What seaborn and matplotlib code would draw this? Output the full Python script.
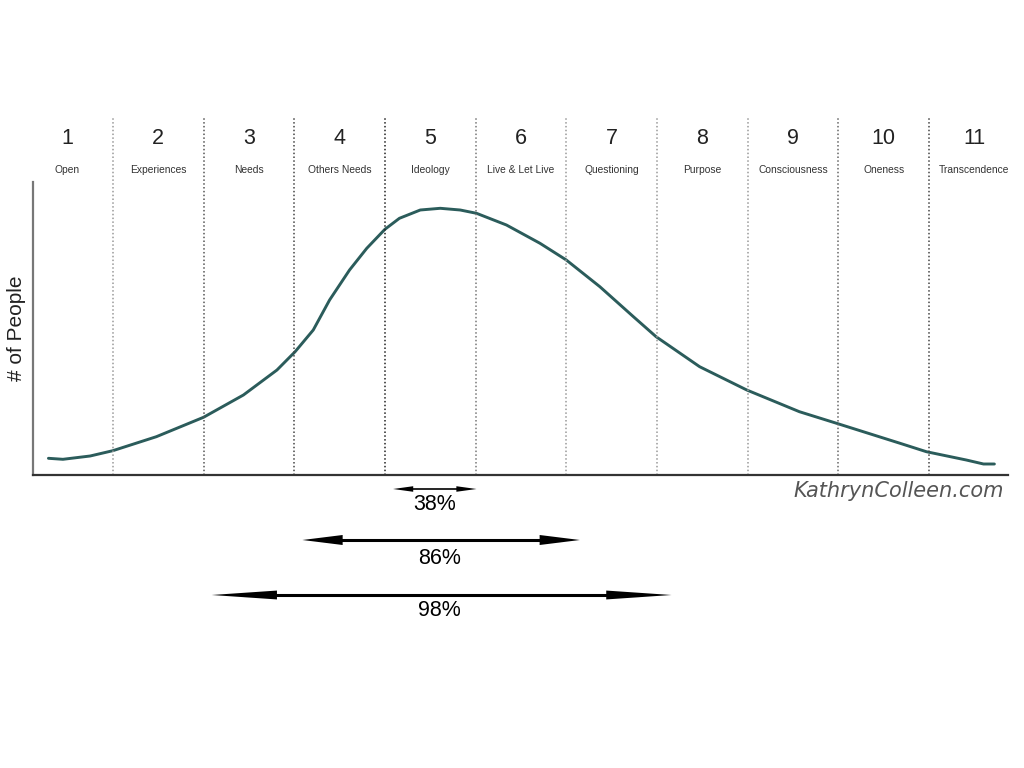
import numpy as np
import pandas as pd
import seaborn as sns
import matplotlib.pyplot as plt

# stages of the curve
stage_numbers = ["1", "2", "3", "4", "5", "6", "7", "8", "9", "10", "11"]
stage_names = ["Open", "Experiences", "Needs", "Others Needs", "Ideology",
               "Live & Let Live", "Questioning", "Purpose", "Consciousness",
               "Oneness", "Transcendence"]

# curve (x in stage units, y = relative # of people)
curve_x = [0.29, 0.45, 0.75, 1.00, 1.48, 2.00, 2.44, 2.81, 3.01, 3.21, 3.39,
           3.61, 3.80, 4.00, 4.16, 4.39, 4.61, 4.83, 5.01, 5.34, 5.71, 6.00,
           6.37, 6.74, 6.99, 7.47, 7.99, 8.57, 8.98, 9.68, 9.97, 10.41, 10.60,
           10.72]
curve_y = [16.7, 15.7, 19, 24.3, 38.3, 57.7, 80, 105, 123.3, 145, 175,
           205, 226.7, 245.7, 256.7, 265, 266.7, 265, 261.7, 250, 231.7, 215,
           188.3, 158.3, 138.3, 108.3, 85, 63.3, 51.7, 31.7, 23.3, 15, 11,
           11]

# share-of-population spans
span_labels = ["38%", "86%", "98%"]
span_start = [4.09, 3.09, 2.09]
span_end = [5.01, 6.15, 7.16]

df = pd.DataFrame({"stage": curve_x, "people": curve_y})

sns.set_style("white")
plt.rcParams['font.family'] = ['Liberation Sans', 'DejaVu Sans']

fig = plt.figure(figsize=(10.24, 7.68), dpi=100)
ax = fig.add_axes([33 / 1024, 293 / 768, 975 / 1024, 293 / 768])

sns.lineplot(data=df, x="stage", y="people", ax=ax, color="#2b5c5b", lw=2.1,
             solid_joinstyle="round", solid_capstyle="round")

ax.set_xlim(0.12, 10.87)
ax.set_ylim(0, 293)

# stage dividers
div_colors = ["#999999", "#555555", "#444444", "#222222", "#777777",
              "#999999", "#999999", "#999999", "#666666", "#444444"]
for i, c in enumerate(div_colors):
    ax.plot([i + 1, i + 1], [0, 357], color=c, ls=(0, (1, 1.5)), lw=1.1, clip_on=False)

for i, (num, name) in enumerate(zip(stage_numbers, stage_names)):
    ax.text(i + 0.5, 339, num, ha="center", va="center_baseline", fontsize=15.5, color="#222222")
    ax.text(i + 0.5, 305, name, ha="center", va="center", fontsize=7.4, color="#333333")

# arrows under the axis
px_per_unit = ax.transData.transform([(1, 0)])[0][0] - ax.transData.transform([(0, 0)])[0][0]
arrow_y = [-14, -65, -120]
label_y = [-29, -84, -136]
head_len = [1.45, 2.9, 4.7]
head_wid = [0.2, 0.36, 0.32]
stem_lw = [1.2, 2.2, 2.2]
label_x = [4.55, 4.6, 4.6]
for s0, s1, lab, ay, ly, hl, hw, slw, lx in zip(span_start, span_end, span_labels, arrow_y,
                                                label_y, head_len, head_wid, stem_lw, label_x):
    # filled heads only
    ax.annotate("", xy=(s1, ay), xytext=(s0, ay), annotation_clip=False,
                arrowprops=dict(arrowstyle=f"<|-|>,head_length={hl},head_width={hw}",
                                color="black", lw=0, shrinkA=0, shrinkB=0, mutation_scale=10))
    inset = 0.5 * hl * 10 * 100 / 72 / px_per_unit
    ax.plot([s0 + inset, s1 - inset], [ay, ay], color="black", lw=slw,
            solid_capstyle="butt", clip_on=False)
    ax.text(lx, ly, lab, ha="center", va="center", fontsize=15.5, color="black")

ax.text(10.83, -16, "KathrynColleen.com", ha="right", va="center", fontsize=15,
        color="#555555", fontstyle="italic", family=["DejaVu Sans"], fontweight="light")

ax.set_xlabel("")
ax.set_ylabel("# of People", fontsize=15, color="#222222", labelpad=5)
ax.set_xticks([])
ax.set_yticks([])
sns.despine(ax=ax)
ax.spines["left"].set_color("#777777")
ax.spines["left"].set_linewidth(1.6)
ax.spines["bottom"].set_color("#333333")
ax.spines["bottom"].set_linewidth(1.6)

fig.savefig("out.png", dpi=100)
